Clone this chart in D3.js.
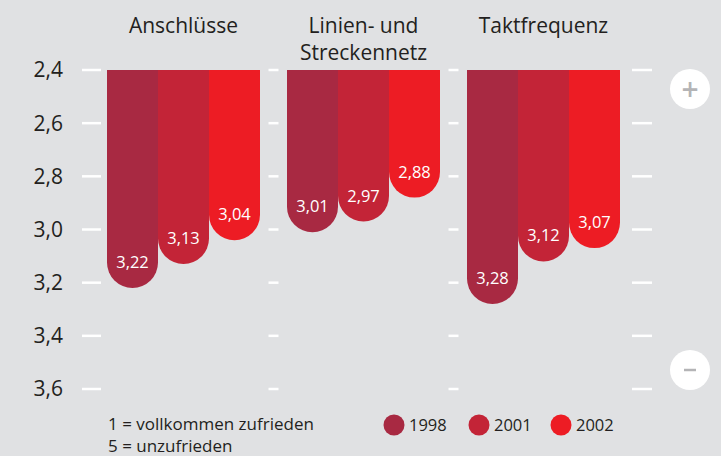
<!DOCTYPE html>
<html>
<head>
<meta charset="utf-8">
<script src="https://cdn.jsdelivr.net/npm/d3@7"></script>
<style>
  html, body { margin: 0; padding: 0; background: #e0e1e3; }
  svg { display: block; font-family: "Open Sans", "Noto Sans", sans-serif; }
</style>
</head>
<body>
<div id="chart"></div>
<script>
const categories = ["Anschlüsse", "Linien- und Streckennetz", "Taktfrequenz"];
const categoryLines = [["Anschlüsse"], ["Linien- und", "Streckennetz"], ["Taktfrequenz"]];
const years = ["1998", "2001", "2002"];
const values1998 = [3.22, 3.01, 3.28];
const values2001 = [3.13, 2.97, 3.12];
const values2002 = [3.04, 2.88, 3.07];
const tickValues = [2.4, 2.6, 2.8, 3.0, 3.2, 3.4, 3.6];
const noteLines = ["1 = vollkommen zufrieden", "5 = unzufrieden"];

const width = 721, height = 456;
const colors = { "1998": "#a82942", "2001": "#c32437", "2002": "#ed1c24" };
const seriesValues = { "1998": values1998, "2001": values2001, "2002": values2002 };

const svg = d3.select("#chart").append("svg")
  .attr("width", width)
  .attr("height", height)
  .attr("viewBox", `0 0 ${width} ${height}`);

svg.append("rect").attr("width", width).attr("height", height).attr("fill", "#e0e1e3");

const x0 = d3.scaleBand().domain(categories).range([107, 620]).paddingInner(0.15).paddingOuter(0);
const x1 = d3.scaleBand().domain(years).range([0, x0.bandwidth()]);
const y = d3.scaleLinear().domain([2.4, 3.6]).range([70, 389]);

const fmt = v => d3.format(".2f")(v).replace(".", ",");
const fmtTick = v => d3.format(".1f")(v).replace(".", ",");

// tick marks: left, between groups, right
const tickSegs = [];
tickSegs.push([x0(categories[0]) - 25, x0(categories[0]) - 6]);
for (let i = 0; i < categories.length - 1; i++) {
  const a = x0(categories[i]) + x0.bandwidth();
  const b = x0(categories[i + 1]);
  const c = (a + b) / 2;
  tickSegs.push([c - 5, c + 5]);
}
const lastEnd = x0(categories[categories.length - 1]) + x0.bandwidth();
tickSegs.push([lastEnd + 12, lastEnd + 32]);

const ticks = svg.append("g");
tickValues.forEach(t => {
  tickSegs.forEach(s => {
    ticks.append("line")
      .attr("x1", s[0]).attr("x2", s[1])
      .attr("y1", y(t)).attr("y2", y(t))
      .attr("stroke", "#fff").attr("stroke-width", 2.5);
  });
});

svg.append("g").selectAll("text")
  .data(tickValues)
  .join("text")
  .attr("x", 63)
  .attr("y", d => y(d))
  .attr("dy", "0.35em")
  .attr("text-anchor", "end")
  .attr("font-size", 21)
  .attr("font-weight", 500)
  .attr("fill", "#231f20")
  .text(fmtTick);

// bars with rounded bottoms
const groups = svg.append("g").selectAll("g")
  .data(categories)
  .join("g")
  .attr("transform", d => `translate(${x0(d)},0)`);

groups.each(function (cat, ci) {
  const g = d3.select(this);
  years.forEach(yr => {
    const v = seriesValues[yr][ci];
    const bx = x1(yr), bw = x1.bandwidth(), r = bw / 2;
    const top = y(2.4), bottom = y(v);
    const p = d3.path();
    p.moveTo(bx, top);
    p.lineTo(bx + bw, top);
    p.lineTo(bx + bw, bottom - r);
    p.arc(bx + r, bottom - r, r, 0, Math.PI, false);
    p.closePath();
    g.append("path")
      .attr("d", p.toString())
      .attr("fill", colors[yr]);
    g.append("text")
      .attr("x", bx + r)
      .attr("y", bottom - 20)
      .attr("text-anchor", "middle")
      .attr("font-size", 16.5)
      .attr("fill", "#fff")
      .text(fmt(v));
  });
});

// category labels
categories.forEach((cat, i) => {
  const t = svg.append("text")
    .attr("x", x0(cat) + x0.bandwidth() / 2)
    .attr("y", 33)
    .attr("text-anchor", "middle")
    .attr("font-size", 21)
    .attr("fill", "#231f20");
  categoryLines[i].forEach((line, j) => {
    t.append("tspan")
      .attr("x", x0(cat) + x0.bandwidth() / 2)
      .attr("dy", j === 0 ? 0 : 27)
      .text(line);
  });
});

// plus / minus buttons
svg.append("circle").attr("cx", 690).attr("cy", 89).attr("r", 20).attr("fill", "#fff");
svg.append("text")
  .attr("x", 690).attr("y", 89)
  .attr("dy", "0.35em")
  .attr("text-anchor", "middle")
  .attr("font-size", 30)
  .attr("font-weight", 600)
  .attr("fill", "#b4b4b6")
  .text("+");
svg.append("circle").attr("cx", 690).attr("cy", 370).attr("r", 20).attr("fill", "#fff");
svg.append("line")
  .attr("x1", 684).attr("x2", 696)
  .attr("y1", 370).attr("y2", 370)
  .attr("stroke", "#b4b4b6").attr("stroke-width", 2.5);

// note
svg.append("g").selectAll("text")
  .data(noteLines)
  .join("text")
  .attr("x", 108)
  .attr("y", (d, i) => 430 + i * 22)
  .attr("font-size", 17)
  .attr("fill", "#231f20")
  .text(d => d);

// legend
const legendX = [394, 479, 561];
const legend = svg.append("g").selectAll("g")
  .data(years)
  .join("g")
  .attr("transform", (d, i) => `translate(${legendX[i]},425)`);
legend.append("circle").attr("r", 10.5).attr("fill", d => colors[d]);
legend.append("text")
  .attr("x", 15)
  .attr("dy", "0.35em")
  .attr("font-size", 16.5)
  .attr("fill", "#231f20")
  .text(d => d);
</script>
</body>
</html>
